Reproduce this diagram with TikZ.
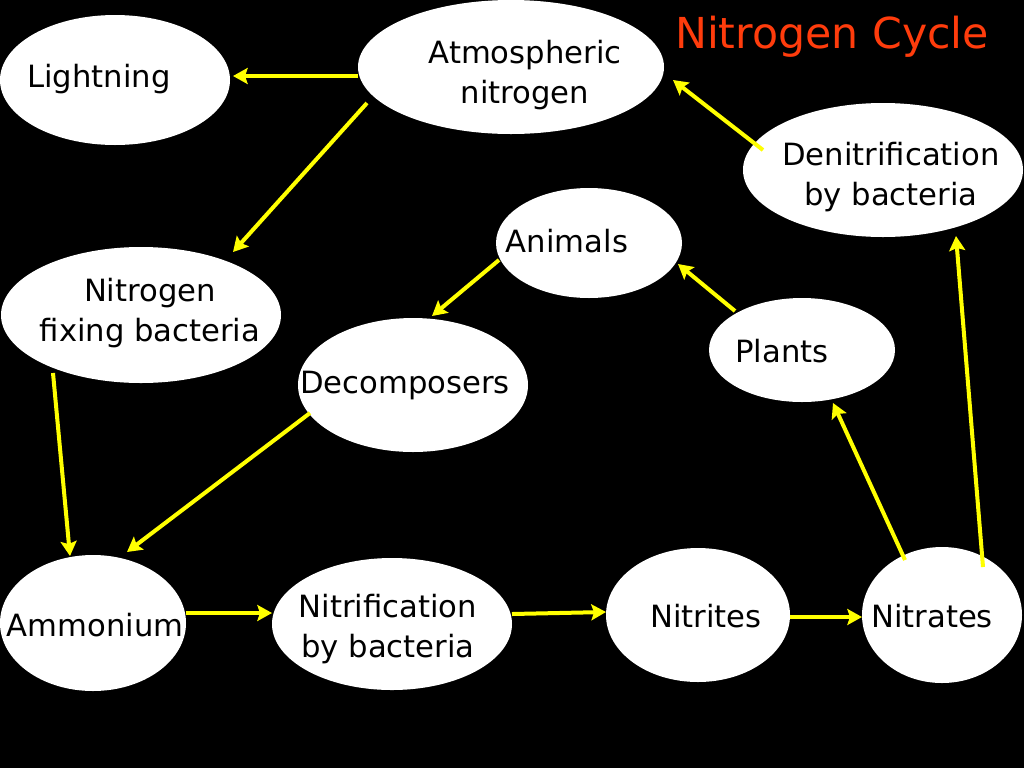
\documentclass[tikz,border=0pt]{standalone}
\usepackage{fontspec}
\setmainfont{DejaVu Sans}
\usetikzlibrary{shapes.geometric,arrows.meta}
\definecolor{titlered}{RGB}{255,60,12}
\definecolor{arrowyellow}{RGB}{255,255,0}
\begin{document}
\def\px{0.75pt}
\begin{tikzpicture}[x=0.75pt,y=-0.75pt,
  bub/.style={ellipse,fill=white,draw=none,inner sep=0pt},
  lbl/.style={text=black,font=\fontsize{23}{30}\selectfont,align=center,inner sep=0pt},
  arr/.style={draw=arrowyellow,line width=3pt,-{Stealth[length=11pt,width=12pt,inset=2pt]}}]
\fill[black] (0,0) rectangle (1024,768);
\useasboundingbox (0,0) rectangle (1024,768);

% bubbles
\node[bub,minimum width=230*\px,minimum height=130*\px] (light) at (115,80) {};
\node[bub,minimum width=306*\px,minimum height=134*\px] (atmo) at (511,67) {};
\node[bub,minimum width=280*\px,minimum height=134*\px] (denit) at (883,170) {};
\node[bub,minimum width=186*\px,minimum height=110*\px] (anim) at (589,243) {};
\node[bub,minimum width=280*\px,minimum height=136*\px] (nfix) at (141,315) {};
\node[bub,minimum width=230*\px,minimum height=134*\px] (decomp) at (413,385) {};
\node[bub,minimum width=186*\px,minimum height=104*\px] (plants) at (802,350) {};
\node[bub,minimum width=186*\px,minimum height=136*\px] (ammon) at (93,623) {};
\node[bub,minimum width=240*\px,minimum height=132*\px] (nitrif) at (392,624) {};
\node[bub,minimum width=184*\px,minimum height=134*\px] (nitrites) at (698,615) {};
\node[bub,minimum width=160*\px,minimum height=136*\px] (nitrates) at (942,615) {};

% texts
\node[lbl] (lightT) at (99,79) {Lightning};
\node[lbl] (atmoT) at (525,75) {Atmospheric\\nitrogen};
\node[lbl] (denitT) at (891,177) {Denitrification\\by bacteria};
\node[lbl] (animT) at (567,241) {Animals};
\node[lbl] (nfixT) at (150,313) {Nitrogen\\fixing bacteria};
\node[lbl] (decompT) at (405,386) {Decomposers};
\node[lbl] (plantsT) at (782,351) {Plants};
\node[lbl] (ammonT) at (95,625) {Ammonium};
\node[lbl] (nitrifT) at (388,629) {Nitrification\\by bacteria};
\node[lbl] (nitritesT) at (706,616) {Nitrites};
\node[lbl] (nitratesT) at (932,616) {Nitrates};

\node[text=titlered,font=\fontsize{32}{38}\selectfont,inner sep=0pt] (title) at (832,37) {Nitrogen Cycle};

% arrows
\draw[arr] ([shift={(-153,9)}]atmo.center) -- ([shift={(118,-4)}]light.center);
\draw[arr] ([shift={(-144,36)}]atmo.center) -- ([shift={(92,-63)}]nfix.center);
\draw[arr] ([shift={(-88,58)}]nfix.center) -- ([shift={(-23,-67)}]ammon.center);
\draw[arr] ([shift={(-103,28)}]decomp.center) -- ([shift={(34,-71)}]ammon.center);
\draw[arr] ([shift={(-90,17)}]anim.center) -- ([shift={(19,-69)}]decomp.center);
\draw[arr] ([shift={(-67,-39)}]plants.center) -- ([shift={(89,21)}]anim.center);
\draw[arr] ([shift={(-37,-55)}]nitrates.center) -- ([shift={(31,53)}]plants.center);
\draw[arr] ([shift={(41,-48)}]nitrates.center) -- ([shift={(73,66)}]denit.center);
\draw[arr] ([shift={(-120,-20)}]denit.center) -- ([shift={(162,13)}]atmo.center);
\draw[arr] ([shift={(93,-10)}]ammon.center) -- ([shift={(-120,-11)}]nitrif.center);
\draw[arr] ([shift={(120,-10)}]nitrif.center) -- ([shift={(-92,-3)}]nitrites.center);
\draw[arr] ([shift={(92,2)}]nitrites.center) -- ([shift={(-80,2)}]nitrates.center);
\end{tikzpicture}
\end{document}
